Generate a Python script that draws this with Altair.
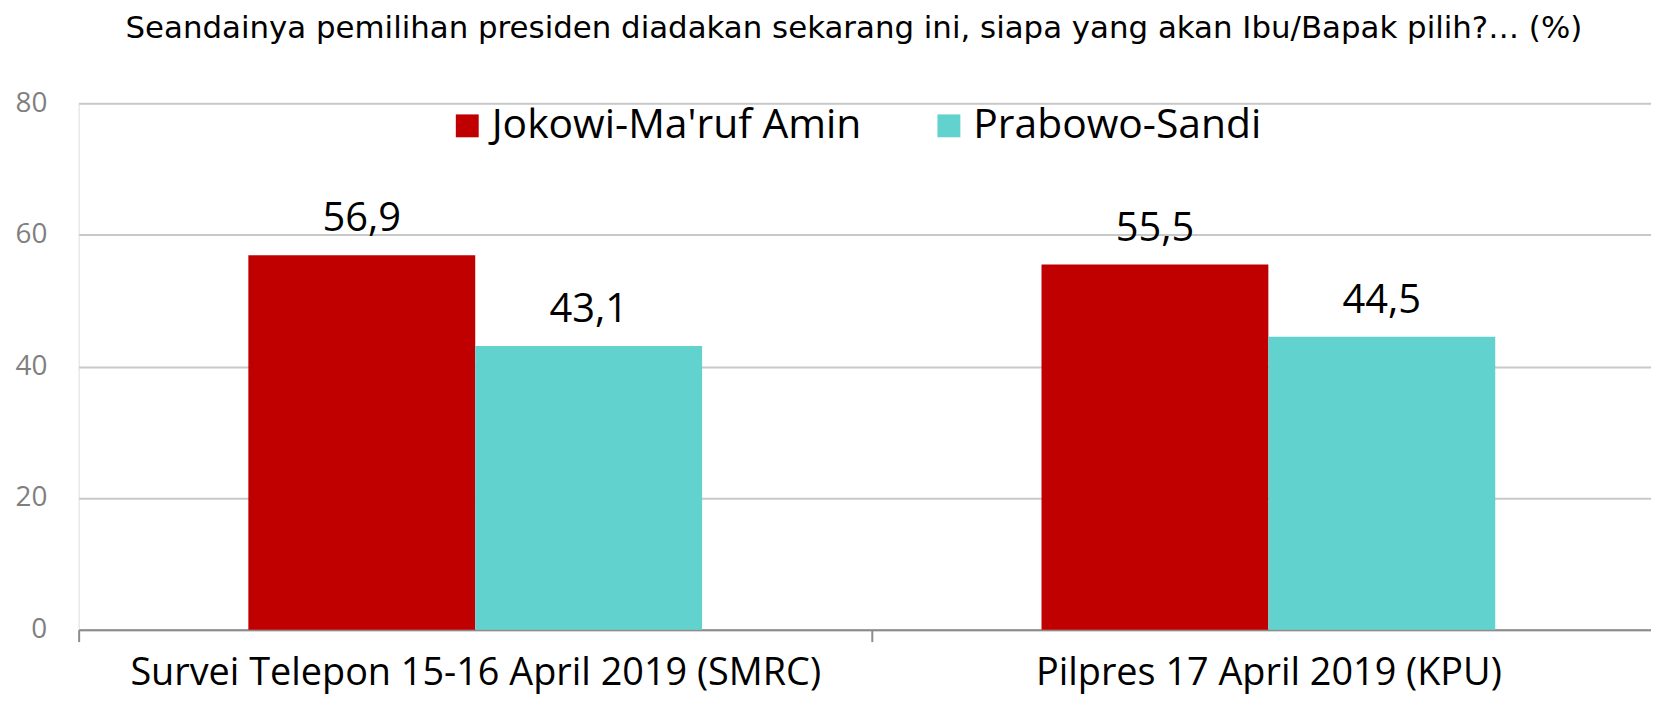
import altair as alt
import pandas as pd

categories = ["Survei Telepon 15-16 April 2019 (SMRC)", "Pilpres 17 April 2019 (KPU)"]
series = ["Jokowi-Ma'ruf Amin", "Prabowo-Sandi"]
jokowi = [56.9, 55.5]
prabowo = [43.1, 44.5]
tick_values = [0, 20, 40, 60, 80]
colors = ["#C00000", "#61D2CE"]
title_text = "Seandainya pemilihan presiden diadakan sekarang ini, siapa yang akan Ibu/Bapak pilih?\u2026 (%)"

rows = []
for i, c in enumerate(categories):
    for s, vals in zip(series, [jokowi, prabowo]):
        rows.append({"cat": c, "series": s, "value": vals[i],
                     "label": f"{vals[i]:.1f}".replace(".", ",")})
df = pd.DataFrame(rows)

FONT = "Open Sans"
TFONT = "DejaVu Sans"

xscale = alt.Scale(paddingInner=0, paddingOuter=0, range=[0, 1594])
xoscale = alt.Scale(paddingInner=0, paddingOuter=0.748)

x = alt.X("cat:N", sort=categories, title=None, scale=xscale,
          axis=alt.Axis(labelAngle=0, labelFontSize=38, labelColor="black", labelFont=FONT,
                        labelPadding=13, domainColor="#8c8c8c", domainWidth=2,
                        tickColor="#8c8c8c", tickWidth=2, tickSize=12, tickBand="extent",
                        grid=False, labelLimit=0))
xo = alt.XOffset("series:N", sort=series, scale=xoscale)
y = alt.Y("value:Q", scale=alt.Scale(domain=[0, 80], nice=False), title=None,
          axis=alt.Axis(values=tick_values, labelFontSize=28, labelColor="#7f7f7f", labelFont=FONT,
                        labelPadding=32, domain=False, ticks=False, gridColor="#c8c8c8", gridWidth=2))
color = alt.Color("series:N", sort=series,
                  scale=alt.Scale(domain=series, range=colors),
                  legend=alt.Legend(title=None, orient="none", direction="horizontal",
                                    legendX=370, legendY=2, padding=0, symbolType="square",
                                    symbolSize=529, symbolStrokeWidth=0, labelFontSize=41,
                                    labelFont=FONT, labelColor="black", labelOffset=4,
                                    columnPadding=67, symbolOpacity=1, labelLimit=0))

bars = alt.Chart(df).mark_bar().encode(x=x, xOffset=xo, y=y, color=color)
text = alt.Chart(df).mark_text(baseline="alphabetic", dy=-24, fontSize=40, font=FONT, color="black").encode(
    x=alt.X("cat:N", sort=categories, scale=xscale),
    xOffset=alt.XOffset("series:N", sort=series, scale=xoscale),
    y=alt.Y("value:Q"), text="label:N")

chart = alt.layer(bars, text).properties(
    width=1580, height=529,
    autosize=alt.AutoSizeParams(type="none"),
    padding={"left": 71, "top": 94, "right": 0, "bottom": 65},
    title=alt.Title(title_text, fontSize=31, font=TFONT, fontWeight="normal", color="black",
                    anchor="middle", frame="group", dx=-11, baseline="alphabetic", offset=21),
).configure_view(stroke=None).configure(background="white")

chart.save("out.html", embed_options={"renderer": "svg", "actions": False})
